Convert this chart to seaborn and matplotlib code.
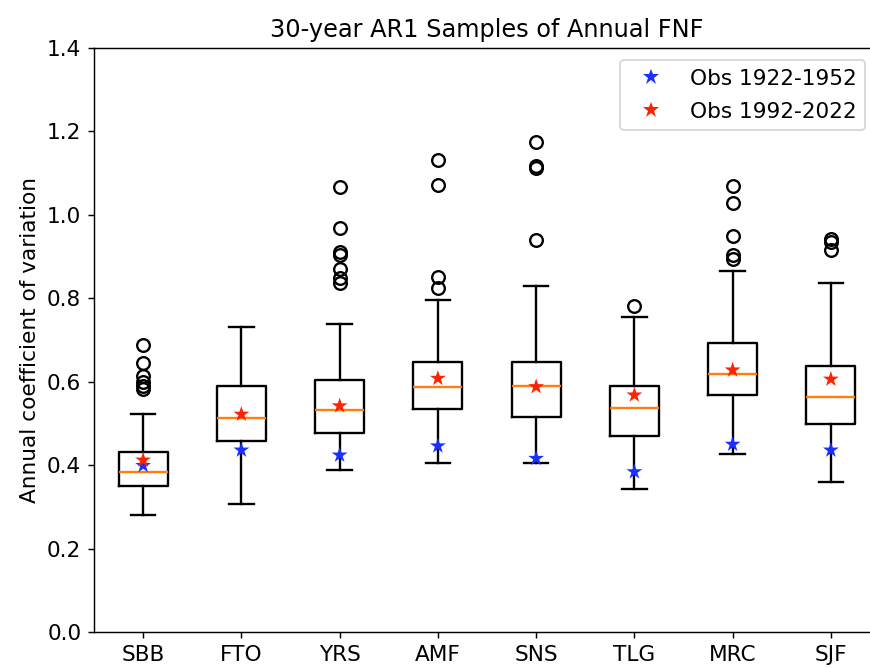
import matplotlib
matplotlib.use("Agg")
import matplotlib.pyplot as plt
import seaborn as sns
import pandas as pd

# station codes
stations = ["SBB", "FTO", "YRS", "AMF", "SNS", "TLG", "MRC", "SJF"]

# box statistics read from the 30-year AR1 samples
whis_lo = [0.281, 0.306, 0.388, 0.406, 0.406, 0.344, 0.426, 0.360]
q1 = [0.351, 0.457, 0.478, 0.534, 0.515, 0.470, 0.567, 0.499]
medians = [0.384, 0.513, 0.532, 0.588, 0.590, 0.537, 0.619, 0.563]
q3 = [0.432, 0.590, 0.603, 0.648, 0.647, 0.590, 0.692, 0.638]
whis_hi = [0.522, 0.732, 0.738, 0.796, 0.830, 0.754, 0.866, 0.836]
fliers = [
    [0.582, 0.590, 0.600, 0.614, 0.644, 0.688],
    [],
    [0.836, 0.848, 0.870, 0.904, 0.912, 0.969, 1.067],
    [0.824, 0.852, 1.072, 1.132],
    [0.940, 1.112, 1.117, 1.174],
    [0.782],
    [0.894, 0.904, 0.949, 1.028, 1.068],
    [0.916, 0.936, 0.942],
]

# observed coefficients of variation
obs_early = [0.399, 0.436, 0.424, 0.446, 0.416, 0.384, 0.450, 0.436]
obs_late = [0.412, 0.522, 0.542, 0.608, 0.588, 0.568, 0.628, 0.606]

positions = list(range(1, len(stations) + 1))

stats = []
for i, name in enumerate(stations):
    stats.append({
        "label": name,
        "whislo": whis_lo[i],
        "q1": q1[i],
        "med": medians[i],
        "q3": q3[i],
        "whishi": whis_hi[i],
        "fliers": fliers[i],
    })

obs_df = pd.DataFrame({
    "pos": positions + positions,
    "cv": obs_early + obs_late,
    "period": ["Obs 1922-1952"] * len(stations) + ["Obs 1992-2022"] * len(stations),
})

plt.rcParams["font.size"] = 12

fig = plt.figure(figsize=(870 / 130, 668 / 130), dpi=130)
ax = fig.add_axes([94 / 870, 36 / 668, 786 / 870, 584 / 668])

ax.bxp(
    stats,
    positions=positions,
    widths=0.5,
    showfliers=True,
    boxprops=dict(color="black", linewidth=1.3),
    whiskerprops=dict(color="black", linewidth=1.3),
    capprops=dict(color="black", linewidth=1.3),
    medianprops=dict(color="#ff7f0e", linewidth=1.3),
    flierprops=dict(marker="o", markerfacecolor="none", markeredgecolor="black",
                    markersize=7, markeredgewidth=1.3),
)

sns.scatterplot(
    data=obs_df, x="pos", y="cv", hue="period",
    palette={"Obs 1922-1952": "#1a30ff", "Obs 1992-2022": "#ff2200"},
    marker="*", s=85, linewidth=0, ax=ax, zorder=5,
)

ax.set_xlim(0.5, 8.5)
ax.set_ylim(0, 1.4)
ax.set_xticks(positions)
ax.set_xticklabels(stations)
ax.set_yticks([0.0, 0.2, 0.4, 0.6, 0.8, 1.0, 1.2, 1.4])
ax.set_xlabel("")
ax.set_ylabel("Annual coefficient of variation")
ax.set_title("30-year AR1 Samples of Annual FNF", fontsize=13.3)
handles, labels = ax.get_legend_handles_labels()
ax.legend(handles, labels, loc="upper right", bbox_to_anchor=(0.995, 0.998),
          handlelength=2.0, handletextpad=0.8, labelspacing=0.6, title=None)

fig.savefig("out.png", dpi=130)
